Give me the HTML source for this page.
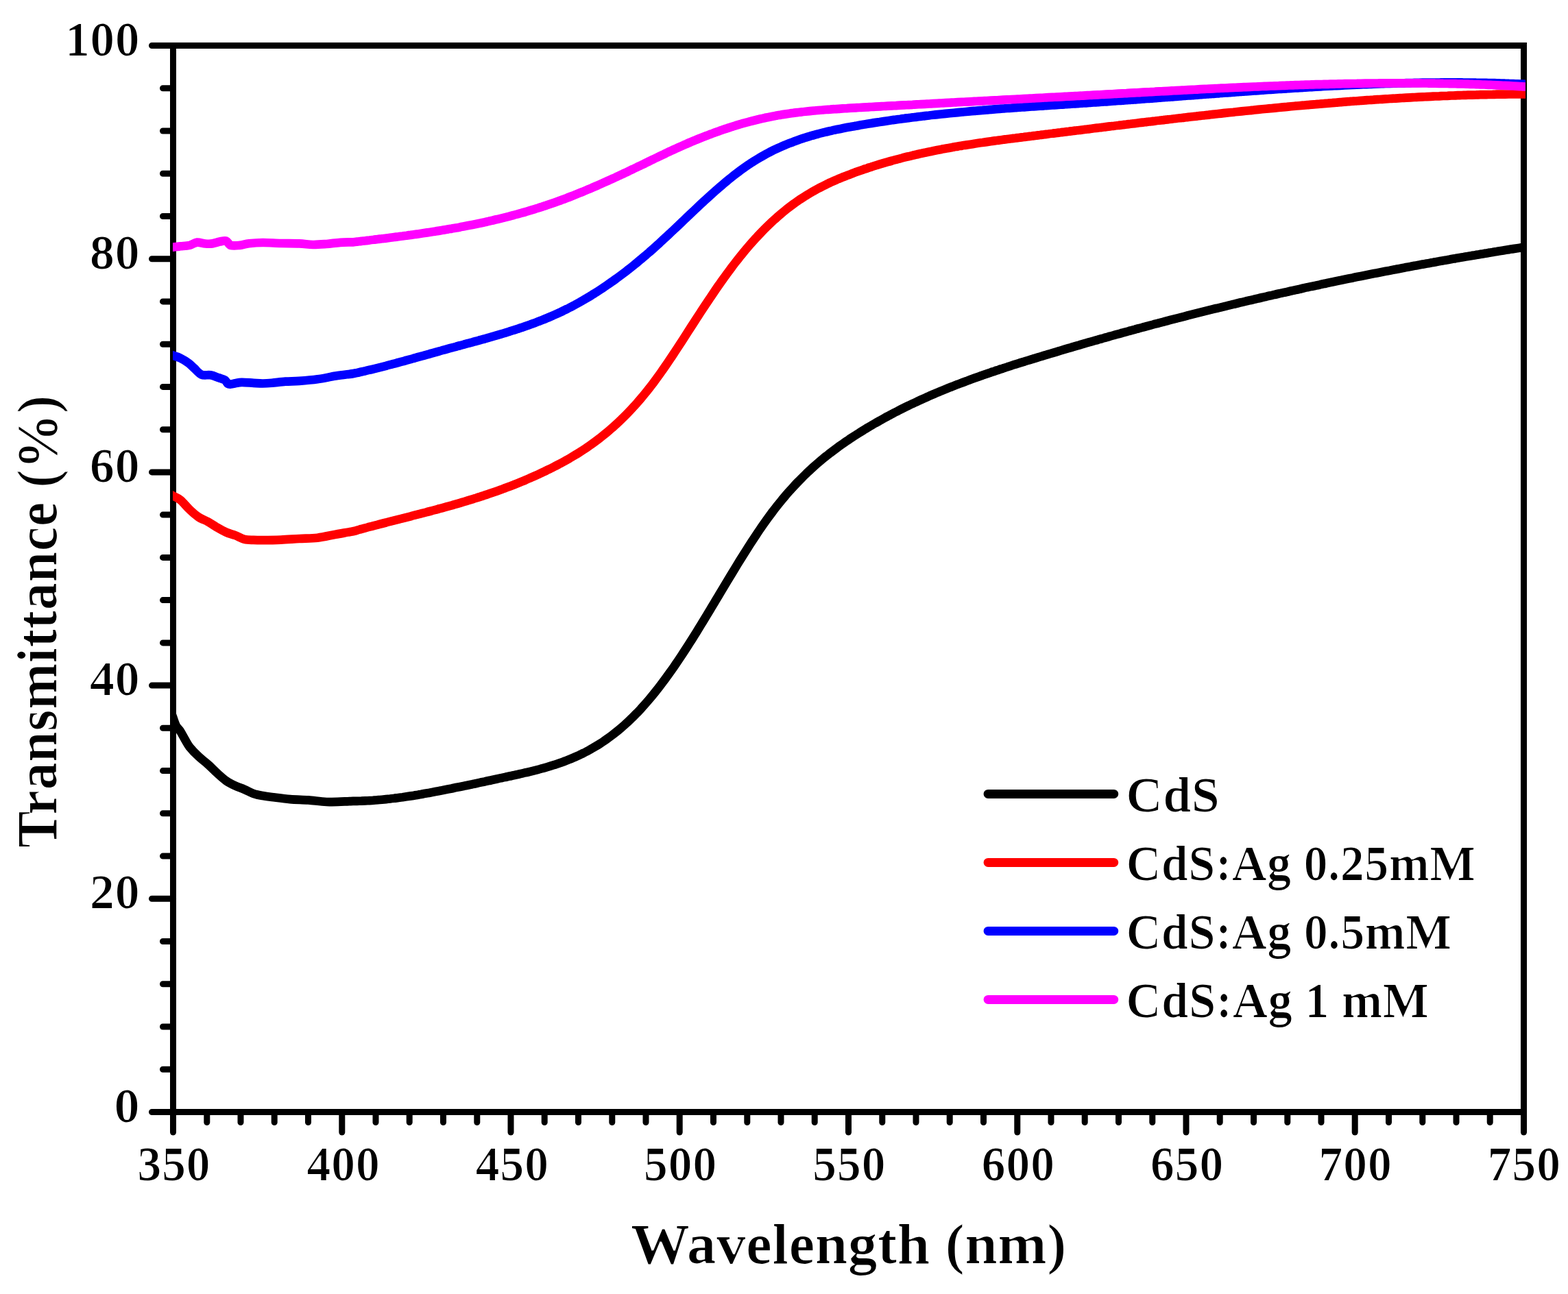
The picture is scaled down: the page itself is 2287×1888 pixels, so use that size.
<!DOCTYPE html>
<html><head><meta charset="utf-8"><title>Transmittance vs Wavelength</title>
<style>
html,body{margin:0;padding:0;background:#fff;overflow:hidden;}
svg{display:block;}
text{font-family:'Liberation Serif',serif;font-weight:bold;}
</style></head><body>
<svg width="2287" height="1888" viewBox="0 0 2287 1888">
<rect width="100%" height="100%" fill="#fff"/>
<g stroke="#000" stroke-width="9" fill="none" stroke-linecap="round">
<line x1="221.5" y1="1622.5" x2="252.5" y2="1622.5"/>
<line x1="237.5" y1="1560.3" x2="252.5" y2="1560.3"/>
<line x1="237.5" y1="1498.0" x2="252.5" y2="1498.0"/>
<line x1="237.5" y1="1435.8" x2="252.5" y2="1435.8"/>
<line x1="237.5" y1="1373.5" x2="252.5" y2="1373.5"/>
<line x1="221.5" y1="1311.3" x2="252.5" y2="1311.3"/>
<line x1="237.5" y1="1249.1" x2="252.5" y2="1249.1"/>
<line x1="237.5" y1="1186.8" x2="252.5" y2="1186.8"/>
<line x1="237.5" y1="1124.6" x2="252.5" y2="1124.6"/>
<line x1="237.5" y1="1062.3" x2="252.5" y2="1062.3"/>
<line x1="221.5" y1="1000.1" x2="252.5" y2="1000.1"/>
<line x1="237.5" y1="937.9" x2="252.5" y2="937.9"/>
<line x1="237.5" y1="875.6" x2="252.5" y2="875.6"/>
<line x1="237.5" y1="813.4" x2="252.5" y2="813.4"/>
<line x1="237.5" y1="751.1" x2="252.5" y2="751.1"/>
<line x1="221.5" y1="688.9" x2="252.5" y2="688.9"/>
<line x1="237.5" y1="626.7" x2="252.5" y2="626.7"/>
<line x1="237.5" y1="564.4" x2="252.5" y2="564.4"/>
<line x1="237.5" y1="502.2" x2="252.5" y2="502.2"/>
<line x1="237.5" y1="439.9" x2="252.5" y2="439.9"/>
<line x1="221.5" y1="377.7" x2="252.5" y2="377.7"/>
<line x1="237.5" y1="315.5" x2="252.5" y2="315.5"/>
<line x1="237.5" y1="253.2" x2="252.5" y2="253.2"/>
<line x1="237.5" y1="191.0" x2="252.5" y2="191.0"/>
<line x1="237.5" y1="128.7" x2="252.5" y2="128.7"/>
<line x1="221.5" y1="66.5" x2="252.5" y2="66.5"/>
<line x1="252.5" y1="1622.5" x2="252.5" y2="1652.0"/>
<line x1="301.8" y1="1622.5" x2="301.8" y2="1637.5"/>
<line x1="351.0" y1="1622.5" x2="351.0" y2="1637.5"/>
<line x1="400.2" y1="1622.5" x2="400.2" y2="1637.5"/>
<line x1="449.5" y1="1622.5" x2="449.5" y2="1637.5"/>
<line x1="498.8" y1="1622.5" x2="498.8" y2="1652.0"/>
<line x1="548.0" y1="1622.5" x2="548.0" y2="1637.5"/>
<line x1="597.2" y1="1622.5" x2="597.2" y2="1637.5"/>
<line x1="646.5" y1="1622.5" x2="646.5" y2="1637.5"/>
<line x1="695.8" y1="1622.5" x2="695.8" y2="1637.5"/>
<line x1="745.0" y1="1622.5" x2="745.0" y2="1652.0"/>
<line x1="794.2" y1="1622.5" x2="794.2" y2="1637.5"/>
<line x1="843.5" y1="1622.5" x2="843.5" y2="1637.5"/>
<line x1="892.8" y1="1622.5" x2="892.8" y2="1637.5"/>
<line x1="942.0" y1="1622.5" x2="942.0" y2="1637.5"/>
<line x1="991.2" y1="1622.5" x2="991.2" y2="1652.0"/>
<line x1="1040.5" y1="1622.5" x2="1040.5" y2="1637.5"/>
<line x1="1089.8" y1="1622.5" x2="1089.8" y2="1637.5"/>
<line x1="1139.0" y1="1622.5" x2="1139.0" y2="1637.5"/>
<line x1="1188.2" y1="1622.5" x2="1188.2" y2="1637.5"/>
<line x1="1237.5" y1="1622.5" x2="1237.5" y2="1652.0"/>
<line x1="1286.8" y1="1622.5" x2="1286.8" y2="1637.5"/>
<line x1="1336.0" y1="1622.5" x2="1336.0" y2="1637.5"/>
<line x1="1385.2" y1="1622.5" x2="1385.2" y2="1637.5"/>
<line x1="1434.5" y1="1622.5" x2="1434.5" y2="1637.5"/>
<line x1="1483.8" y1="1622.5" x2="1483.8" y2="1652.0"/>
<line x1="1533.0" y1="1622.5" x2="1533.0" y2="1637.5"/>
<line x1="1582.2" y1="1622.5" x2="1582.2" y2="1637.5"/>
<line x1="1631.5" y1="1622.5" x2="1631.5" y2="1637.5"/>
<line x1="1680.8" y1="1622.5" x2="1680.8" y2="1637.5"/>
<line x1="1730.0" y1="1622.5" x2="1730.0" y2="1652.0"/>
<line x1="1779.2" y1="1622.5" x2="1779.2" y2="1637.5"/>
<line x1="1828.5" y1="1622.5" x2="1828.5" y2="1637.5"/>
<line x1="1877.8" y1="1622.5" x2="1877.8" y2="1637.5"/>
<line x1="1927.0" y1="1622.5" x2="1927.0" y2="1637.5"/>
<line x1="1976.2" y1="1622.5" x2="1976.2" y2="1652.0"/>
<line x1="2025.5" y1="1622.5" x2="2025.5" y2="1637.5"/>
<line x1="2074.8" y1="1622.5" x2="2074.8" y2="1637.5"/>
<line x1="2124.0" y1="1622.5" x2="2124.0" y2="1637.5"/>
<line x1="2173.2" y1="1622.5" x2="2173.2" y2="1637.5"/>
<line x1="2222.5" y1="1622.5" x2="2222.5" y2="1652.0"/>
</g>
<rect x="252.5" y="66.5" width="1970.0" height="1556.0" fill="none" stroke="#000" stroke-width="9"/>
<defs><clipPath id="pc"><rect x="252" y="0" width="1973" height="1888"/></clipPath></defs>
<g clip-path="url(#pc)">
<path d="M248.0,1035.3 C248.7,1037.1 250.6,1042.1 252.0,1046.0 C253.4,1049.9 254.8,1055.0 256.7,1058.6 C258.6,1062.1 261.1,1063.8 263.3,1067.3 C265.5,1070.8 267.8,1075.5 270.0,1079.3 C272.2,1083.1 273.3,1085.8 276.6,1089.9 C279.9,1094.0 285.4,1099.7 289.9,1103.9 C294.3,1108.1 298.9,1111.2 303.3,1115.2 C307.8,1119.2 312.2,1123.9 316.6,1127.9 C321.0,1131.9 325.5,1136.1 329.9,1139.2 C334.3,1142.3 338.8,1144.4 343.2,1146.5 C347.6,1148.6 352.1,1149.9 356.5,1151.8 C360.9,1153.7 365.4,1156.5 369.8,1158.0 C374.2,1159.5 378.7,1160.3 383.1,1161.1 C387.6,1161.9 389.8,1162.2 396.5,1163.0 C403.2,1163.8 414.2,1165.4 423.1,1166.1 C432.0,1166.8 440.8,1166.8 449.7,1167.4 C458.6,1168.1 467.4,1169.7 476.3,1170.0 C485.2,1170.3 496.4,1169.6 502.9,1169.4 C509.3,1169.2 512.0,1169.0 515.0,1168.9 C518.0,1168.8 519.0,1168.9 521.0,1168.8 C523.0,1168.8 525.0,1168.7 527.0,1168.7 C529.0,1168.6 531.0,1168.5 533.0,1168.4 C535.0,1168.3 537.0,1168.2 539.0,1168.1 C541.0,1168.0 543.0,1167.9 545.0,1167.7 C547.0,1167.6 549.0,1167.4 551.0,1167.2 C553.0,1167.1 555.0,1166.9 557.0,1166.7 C559.0,1166.5 561.0,1166.3 563.0,1166.1 C565.0,1165.9 567.0,1165.7 569.0,1165.5 C571.0,1165.2 573.0,1165.0 575.0,1164.8 C577.0,1164.5 579.0,1164.3 581.0,1164.0 C583.0,1163.7 585.0,1163.4 587.0,1163.2 C589.0,1162.9 591.0,1162.6 593.0,1162.3 C595.0,1162.0 597.0,1161.7 599.0,1161.4 C601.0,1161.1 603.0,1160.8 605.0,1160.4 C607.0,1160.1 609.0,1159.8 611.0,1159.4 C613.0,1159.1 615.0,1158.7 617.0,1158.4 C619.0,1158.0 621.0,1157.7 623.0,1157.3 C625.0,1157.0 627.0,1156.6 629.0,1156.2 C631.0,1155.9 633.0,1155.5 635.0,1155.1 C637.0,1154.7 639.0,1154.3 641.0,1153.9 C643.0,1153.6 645.0,1153.2 647.0,1152.8 C649.0,1152.4 651.0,1152.0 653.0,1151.6 C655.0,1151.2 657.0,1150.8 659.0,1150.4 C661.0,1150.0 663.0,1149.5 665.0,1149.1 C667.0,1148.7 669.0,1148.3 671.0,1147.9 C673.0,1147.5 675.0,1147.1 677.0,1146.7 C679.0,1146.2 681.0,1145.8 683.0,1145.4 C685.0,1145.0 687.0,1144.6 689.0,1144.2 C691.0,1143.7 693.0,1143.3 695.0,1142.9 C697.0,1142.5 699.0,1142.1 701.0,1141.6 C703.0,1141.2 705.0,1140.8 707.0,1140.4 C709.0,1139.9 711.0,1139.5 713.0,1139.1 C715.0,1138.7 717.0,1138.2 719.0,1137.8 C721.0,1137.4 723.0,1137.0 725.0,1136.5 C727.0,1136.1 729.0,1135.7 731.0,1135.2 C733.0,1134.8 735.0,1134.4 737.0,1133.9 C739.0,1133.5 741.0,1133.0 743.0,1132.6 C745.0,1132.2 747.0,1131.7 749.0,1131.3 C751.0,1130.8 753.0,1130.4 755.0,1130.0 C757.0,1129.5 759.0,1129.1 761.0,1128.6 C763.0,1128.1 765.0,1127.7 767.0,1127.2 C769.0,1126.8 771.0,1126.3 773.0,1125.8 C775.0,1125.3 777.0,1124.8 779.0,1124.3 C781.0,1123.8 783.0,1123.3 785.0,1122.8 C787.0,1122.3 789.0,1121.7 791.0,1121.2 C793.0,1120.6 795.0,1120.1 797.0,1119.5 C799.0,1118.9 801.0,1118.3 803.0,1117.7 C805.0,1117.1 807.0,1116.5 809.0,1115.8 C811.0,1115.2 813.0,1114.5 815.0,1113.8 C817.0,1113.1 819.0,1112.4 821.0,1111.7 C823.0,1110.9 825.0,1110.2 827.0,1109.4 C829.0,1108.6 831.0,1107.8 833.0,1107.0 C835.0,1106.2 837.0,1105.3 839.0,1104.4 C841.0,1103.5 843.0,1102.6 845.0,1101.7 C847.0,1100.7 849.0,1099.8 851.0,1098.8 C853.0,1097.8 855.0,1096.7 857.0,1095.7 C859.0,1094.6 861.0,1093.5 863.0,1092.3 C865.0,1091.2 867.0,1090.0 869.0,1088.8 C871.0,1087.6 873.0,1086.4 875.0,1085.1 C877.0,1083.8 879.0,1082.5 881.0,1081.1 C883.0,1079.8 885.0,1078.4 887.0,1076.9 C889.0,1075.5 891.0,1074.0 893.0,1072.5 C895.0,1071.0 897.0,1069.4 899.0,1067.8 C901.0,1066.2 903.0,1064.5 905.0,1062.8 C907.0,1061.1 909.0,1059.4 911.0,1057.6 C913.0,1055.8 915.0,1054.0 917.0,1052.1 C919.0,1050.2 921.0,1048.3 923.0,1046.3 C925.0,1044.4 927.0,1042.3 929.0,1040.3 C931.0,1038.2 933.0,1036.1 935.0,1033.9 C937.0,1031.7 939.0,1029.5 941.0,1027.2 C943.0,1025.0 945.0,1022.7 947.0,1020.3 C949.0,1017.9 951.0,1015.5 953.0,1013.0 C955.0,1010.6 957.0,1008.0 959.0,1005.5 C961.0,1002.9 963.0,1000.3 965.0,997.7 C967.0,995.0 969.0,992.3 971.0,989.6 C973.0,986.9 975.0,984.1 977.0,981.3 C979.0,978.5 981.0,975.6 983.0,972.8 C985.0,969.9 987.0,966.9 989.0,964.0 C991.0,961.0 993.0,958.0 995.0,955.0 C997.0,952.0 999.0,948.9 1001.0,945.8 C1003.0,942.7 1005.0,939.6 1007.0,936.4 C1009.0,933.3 1011.0,930.1 1013.0,926.9 C1015.0,923.7 1017.0,920.4 1019.0,917.2 C1021.0,913.9 1023.0,910.7 1025.0,907.4 C1027.0,904.1 1029.0,900.8 1031.0,897.5 C1033.0,894.2 1035.0,890.9 1037.0,887.5 C1039.0,884.2 1041.0,880.9 1043.0,877.5 C1045.0,874.2 1047.0,870.9 1049.0,867.5 C1051.0,864.2 1053.0,860.8 1055.0,857.5 C1057.0,854.2 1059.0,850.8 1061.0,847.5 C1063.0,844.2 1065.0,840.9 1067.0,837.6 C1069.0,834.3 1071.0,831.0 1073.0,827.7 C1075.0,824.4 1077.0,821.2 1079.0,817.9 C1081.0,814.7 1083.0,811.5 1085.0,808.3 C1087.0,805.1 1089.0,802.0 1091.0,798.8 C1093.0,795.7 1095.0,792.6 1097.0,789.5 C1099.0,786.4 1101.0,783.4 1103.0,780.4 C1105.0,777.4 1107.0,774.4 1109.0,771.5 C1111.0,768.6 1113.0,765.7 1115.0,762.9 C1117.0,760.0 1119.0,757.2 1121.0,754.5 C1123.0,751.7 1125.0,749.1 1127.0,746.4 C1129.0,743.8 1131.0,741.2 1133.0,738.6 C1135.0,736.1 1137.0,733.6 1139.0,731.2 C1141.0,728.7 1143.0,726.3 1145.0,724.0 C1147.0,721.6 1149.0,719.3 1151.0,717.1 C1153.0,714.8 1155.0,712.6 1157.0,710.4 C1159.0,708.2 1161.0,706.1 1163.0,704.0 C1165.0,701.9 1167.0,699.9 1169.0,697.9 C1171.0,695.9 1173.0,693.9 1175.0,692.0 C1177.0,690.0 1179.0,688.1 1181.0,686.3 C1183.0,684.4 1185.0,682.6 1187.0,680.8 C1189.0,679.0 1191.0,677.2 1193.0,675.5 C1195.0,673.8 1197.0,672.1 1199.0,670.4 C1201.0,668.8 1203.0,667.1 1205.0,665.5 C1207.0,663.9 1209.0,662.4 1211.0,660.8 C1213.0,659.3 1215.0,657.8 1217.0,656.3 C1219.0,654.8 1221.0,653.3 1223.0,651.8 C1225.0,650.4 1227.0,649.0 1229.0,647.6 C1231.0,646.2 1233.0,644.8 1235.0,643.4 C1237.0,642.1 1239.0,640.7 1241.0,639.4 C1243.0,638.1 1245.0,636.8 1247.0,635.5 C1249.0,634.2 1251.0,633.0 1253.0,631.7 C1255.0,630.4 1257.0,629.2 1259.0,628.0 C1261.0,626.8 1263.0,625.5 1265.0,624.3 C1267.0,623.1 1269.0,621.9 1271.0,620.8 C1273.0,619.6 1275.0,618.4 1277.0,617.3 C1279.0,616.1 1281.0,615.0 1283.0,613.9 C1285.0,612.7 1287.0,611.6 1289.0,610.5 C1291.0,609.4 1293.0,608.3 1295.0,607.3 C1297.0,606.2 1299.0,605.1 1301.0,604.0 C1303.0,603.0 1305.0,601.9 1307.0,600.9 C1309.0,599.9 1311.0,598.8 1313.0,597.8 C1315.0,596.8 1317.0,595.8 1319.0,594.8 C1321.0,593.8 1323.0,592.8 1325.0,591.9 C1327.0,590.9 1329.0,589.9 1331.0,589.0 C1333.0,588.0 1335.0,587.1 1337.0,586.2 C1339.0,585.2 1341.0,584.3 1343.0,583.4 C1345.0,582.5 1347.0,581.6 1349.0,580.7 C1351.0,579.8 1353.0,578.9 1355.0,578.0 C1357.0,577.1 1359.0,576.3 1361.0,575.4 C1363.0,574.5 1365.0,573.7 1367.0,572.8 C1369.0,572.0 1371.0,571.2 1373.0,570.3 C1375.0,569.5 1377.0,568.7 1379.0,567.9 C1381.0,567.1 1383.0,566.2 1385.0,565.4 C1387.0,564.6 1389.0,563.9 1391.0,563.1 C1393.0,562.3 1395.0,561.5 1397.0,560.7 C1399.0,560.0 1401.0,559.2 1403.0,558.5 C1405.0,557.7 1407.0,556.9 1409.0,556.2 C1411.0,555.5 1413.0,554.7 1415.0,554.0 C1417.0,553.3 1419.0,552.5 1421.0,551.8 C1423.0,551.1 1425.0,550.4 1427.0,549.7 C1429.0,549.0 1431.0,548.2 1433.0,547.6 C1435.0,546.9 1437.0,546.2 1439.0,545.5 C1441.0,544.8 1443.0,544.1 1445.0,543.4 C1447.0,542.7 1449.0,542.1 1451.0,541.4 C1453.0,540.7 1455.0,540.1 1457.0,539.4 C1459.0,538.7 1461.0,538.1 1463.0,537.4 C1465.0,536.8 1467.0,536.1 1469.0,535.5 C1471.0,534.8 1473.0,534.2 1475.0,533.5 C1477.0,532.9 1479.0,532.3 1481.0,531.6 C1483.0,531.0 1485.0,530.4 1487.0,529.7 C1489.0,529.1 1491.0,528.5 1493.0,527.9 C1495.0,527.2 1497.0,526.6 1499.0,526.0 C1501.0,525.4 1503.0,524.8 1505.0,524.2 C1507.0,523.5 1509.0,522.9 1511.0,522.3 C1513.0,521.7 1515.0,521.1 1517.0,520.5 C1519.0,519.9 1521.0,519.3 1523.0,518.7 C1525.0,518.1 1527.0,517.5 1529.0,516.9 C1531.0,516.3 1533.0,515.7 1535.0,515.1 C1537.0,514.5 1539.0,513.9 1541.0,513.3 C1543.0,512.7 1545.0,512.1 1547.0,511.5 C1549.0,510.9 1551.0,510.3 1553.0,509.7 C1555.0,509.1 1557.0,508.5 1559.0,507.9 C1561.0,507.3 1563.0,506.8 1565.0,506.2 C1567.0,505.6 1569.0,505.0 1571.0,504.4 C1573.0,503.8 1575.0,503.3 1577.0,502.7 C1579.0,502.1 1581.0,501.5 1583.0,500.9 C1585.0,500.4 1587.0,499.8 1589.0,499.2 C1591.0,498.6 1593.0,498.1 1595.0,497.5 C1597.0,496.9 1599.0,496.4 1601.0,495.8 C1603.0,495.2 1605.0,494.7 1607.0,494.1 C1609.0,493.5 1611.0,493.0 1613.0,492.4 C1615.0,491.8 1617.0,491.3 1619.0,490.7 C1621.0,490.2 1623.0,489.6 1625.0,489.0 C1627.0,488.5 1629.0,487.9 1631.0,487.4 C1633.0,486.8 1635.0,486.3 1637.0,485.7 C1639.0,485.2 1641.0,484.6 1643.0,484.1 C1645.0,483.5 1647.0,483.0 1649.0,482.4 C1651.0,481.9 1653.0,481.3 1655.0,480.8 C1657.0,480.2 1659.0,479.7 1661.0,479.1 C1663.0,478.6 1665.0,478.1 1667.0,477.5 C1669.0,477.0 1671.0,476.5 1673.0,475.9 C1675.0,475.4 1677.0,474.8 1679.0,474.3 C1681.0,473.8 1683.0,473.2 1685.0,472.7 C1687.0,472.2 1689.0,471.7 1691.0,471.1 C1693.0,470.6 1695.0,470.1 1697.0,469.6 C1699.0,469.0 1701.0,468.5 1703.0,468.0 C1705.0,467.5 1707.0,466.9 1709.0,466.4 C1711.0,465.9 1713.0,465.4 1715.0,464.9 C1717.0,464.3 1719.0,463.8 1721.0,463.3 C1723.0,462.8 1725.0,462.3 1727.0,461.8 C1729.0,461.3 1731.0,460.8 1733.0,460.2 C1735.0,459.7 1737.0,459.2 1739.0,458.7 C1741.0,458.2 1743.0,457.7 1745.0,457.2 C1747.0,456.7 1749.0,456.2 1751.0,455.7 C1753.0,455.2 1755.0,454.7 1757.0,454.2 C1759.0,453.7 1761.0,453.2 1763.0,452.7 C1765.0,452.2 1767.0,451.7 1769.0,451.2 C1771.0,450.7 1773.0,450.2 1775.0,449.8 C1777.0,449.3 1779.0,448.8 1781.0,448.3 C1783.0,447.8 1785.0,447.3 1787.0,446.8 C1789.0,446.3 1791.0,445.9 1793.0,445.4 C1795.0,444.9 1797.0,444.4 1799.0,443.9 C1801.0,443.4 1803.0,443.0 1805.0,442.5 C1807.0,442.0 1809.0,441.5 1811.0,441.1 C1813.0,440.6 1815.0,440.1 1817.0,439.6 C1819.0,439.2 1821.0,438.7 1823.0,438.2 C1825.0,437.8 1827.0,437.3 1829.0,436.8 C1831.0,436.4 1833.0,435.9 1835.0,435.4 C1837.0,435.0 1839.0,434.5 1841.0,434.0 C1843.0,433.6 1845.0,433.1 1847.0,432.7 C1849.0,432.2 1851.0,431.7 1853.0,431.3 C1855.0,430.8 1857.0,430.4 1859.0,429.9 C1861.0,429.5 1863.0,429.0 1865.0,428.5 C1867.0,428.1 1869.0,427.6 1871.0,427.2 C1873.0,426.7 1875.0,426.3 1877.0,425.9 C1879.0,425.4 1881.0,425.0 1883.0,424.5 C1885.0,424.1 1887.0,423.6 1889.0,423.2 C1891.0,422.7 1893.0,422.3 1895.0,421.9 C1897.0,421.4 1899.0,421.0 1901.0,420.5 C1903.0,420.1 1905.0,419.7 1907.0,419.2 C1909.0,418.8 1911.0,418.4 1913.0,417.9 C1915.0,417.5 1917.0,417.1 1919.0,416.7 C1921.0,416.2 1923.0,415.8 1925.0,415.4 C1927.0,414.9 1929.0,414.5 1931.0,414.1 C1933.0,413.7 1935.0,413.2 1937.0,412.8 C1939.0,412.4 1941.0,412.0 1943.0,411.6 C1945.0,411.1 1947.0,410.7 1949.0,410.3 C1951.0,409.9 1953.0,409.5 1955.0,409.1 C1957.0,408.6 1959.0,408.2 1961.0,407.8 C1963.0,407.4 1965.0,407.0 1967.0,406.6 C1969.0,406.2 1971.0,405.8 1973.0,405.4 C1975.0,404.9 1977.0,404.5 1979.0,404.1 C1981.0,403.7 1983.0,403.3 1985.0,402.9 C1987.0,402.5 1989.0,402.1 1991.0,401.7 C1993.0,401.3 1995.0,400.9 1997.0,400.5 C1999.0,400.1 2001.0,399.7 2003.0,399.3 C2005.0,398.9 2007.0,398.6 2009.0,398.2 C2011.0,397.8 2013.0,397.4 2015.0,397.0 C2017.0,396.6 2019.0,396.2 2021.0,395.8 C2023.0,395.4 2025.0,395.0 2027.0,394.7 C2029.0,394.3 2031.0,393.9 2033.0,393.5 C2035.0,393.1 2037.0,392.7 2039.0,392.4 C2041.0,392.0 2043.0,391.6 2045.0,391.2 C2047.0,390.8 2049.0,390.5 2051.0,390.1 C2053.0,389.7 2055.0,389.3 2057.0,389.0 C2059.0,388.6 2061.0,388.2 2063.0,387.8 C2065.0,387.5 2067.0,387.1 2069.0,386.7 C2071.0,386.4 2073.0,386.0 2075.0,385.6 C2077.0,385.3 2079.0,384.9 2081.0,384.5 C2083.0,384.2 2085.0,383.8 2087.0,383.4 C2089.0,383.1 2091.0,382.7 2093.0,382.4 C2095.0,382.0 2097.0,381.6 2099.0,381.3 C2101.0,380.9 2103.0,380.6 2105.0,380.2 C2107.0,379.9 2109.0,379.5 2111.0,379.2 C2113.0,378.8 2115.0,378.5 2117.0,378.1 C2119.0,377.8 2121.0,377.4 2123.0,377.1 C2125.0,376.7 2127.0,376.4 2129.0,376.0 C2131.0,375.7 2133.0,375.3 2135.0,375.0 C2137.0,374.6 2139.0,374.3 2141.0,374.0 C2143.0,373.6 2145.0,373.3 2147.0,372.9 C2149.0,372.6 2151.0,372.3 2153.0,371.9 C2155.0,371.6 2157.0,371.3 2159.0,370.9 C2161.0,370.6 2163.0,370.3 2165.0,369.9 C2167.0,369.6 2169.0,369.3 2171.0,368.9 C2173.0,368.6 2175.0,368.3 2177.0,368.0 C2179.0,367.6 2181.0,367.3 2183.0,367.0 C2185.0,366.6 2187.0,366.3 2189.0,366.0 C2191.0,365.7 2193.0,365.4 2195.0,365.0 C2197.0,364.7 2199.0,364.4 2201.0,364.1 C2203.0,363.8 2205.0,363.4 2207.0,363.1 C2209.0,362.8 2211.0,362.5 2213.0,362.2 C2215.0,361.9 2217.0,361.6 2219.0,361.2 C2221.0,360.9 2223.3,360.6 2225.0,360.3 C2226.7,360.1 2228.3,359.8 2229.0,359.7" fill="none" stroke="#000" stroke-width="12.7" stroke-linejoin="round"/>
<path d="M248.0,721.1 C248.7,721.4 249.4,721.9 252.0,723.3 C254.6,724.7 259.2,726.2 263.3,729.6 C267.4,733.0 272.2,739.3 276.6,743.5 C281.0,747.7 285.4,751.6 289.9,754.6 C294.3,757.6 298.9,758.7 303.3,761.2 C307.8,763.7 312.2,766.9 316.6,769.5 C321.0,772.1 325.5,774.6 329.9,776.6 C334.3,778.6 338.8,779.5 343.2,781.2 C347.6,782.9 352.1,785.7 356.5,786.8 C360.9,787.9 365.4,787.7 369.8,787.9 C374.2,788.1 376.4,788.1 383.1,788.1 C389.8,788.1 400.9,788.0 409.8,787.6 C418.7,787.2 427.5,786.5 436.4,786.0 C445.3,785.5 454.1,785.8 463.0,784.7 C471.9,783.7 480.9,781.3 489.6,779.7 C498.3,778.1 509.8,776.3 515.0,775.2 C520.2,774.2 519.0,774.1 521.0,773.6 C523.0,773.0 525.0,772.5 527.0,771.9 C529.0,771.4 531.0,770.8 533.0,770.3 C535.0,769.8 537.0,769.2 539.0,768.7 C541.0,768.2 543.0,767.7 545.0,767.1 C547.0,766.6 549.0,766.1 551.0,765.6 C553.0,765.0 555.0,764.5 557.0,764.0 C559.0,763.5 561.0,763.0 563.0,762.5 C565.0,761.9 567.0,761.4 569.0,760.9 C571.0,760.4 573.0,759.9 575.0,759.4 C577.0,758.9 579.0,758.4 581.0,757.9 C583.0,757.3 585.0,756.8 587.0,756.3 C589.0,755.8 591.0,755.3 593.0,754.8 C595.0,754.3 597.0,753.8 599.0,753.3 C601.0,752.7 603.0,752.2 605.0,751.7 C607.0,751.2 609.0,750.7 611.0,750.2 C613.0,749.7 615.0,749.1 617.0,748.6 C619.0,748.1 621.0,747.6 623.0,747.0 C625.0,746.5 627.0,746.0 629.0,745.5 C631.0,744.9 633.0,744.4 635.0,743.9 C637.0,743.3 639.0,742.8 641.0,742.2 C643.0,741.7 645.0,741.2 647.0,740.6 C649.0,740.1 651.0,739.5 653.0,738.9 C655.0,738.4 657.0,737.8 659.0,737.3 C661.0,736.7 663.0,736.1 665.0,735.5 C667.0,735.0 669.0,734.4 671.0,733.8 C673.0,733.2 675.0,732.6 677.0,732.0 C679.0,731.4 681.0,730.8 683.0,730.2 C685.0,729.6 687.0,729.0 689.0,728.4 C691.0,727.7 693.0,727.1 695.0,726.5 C697.0,725.8 699.0,725.2 701.0,724.6 C703.0,723.9 705.0,723.3 707.0,722.6 C709.0,721.9 711.0,721.3 713.0,720.6 C715.0,719.9 717.0,719.2 719.0,718.5 C721.0,717.8 723.0,717.1 725.0,716.4 C727.0,715.7 729.0,715.0 731.0,714.3 C733.0,713.5 735.0,712.8 737.0,712.0 C739.0,711.3 741.0,710.5 743.0,709.8 C745.0,709.0 747.0,708.2 749.0,707.5 C751.0,706.7 753.0,705.9 755.0,705.1 C757.0,704.3 759.0,703.4 761.0,702.6 C763.0,701.8 765.0,701.0 767.0,700.1 C769.0,699.3 771.0,698.4 773.0,697.5 C775.0,696.7 777.0,695.8 779.0,694.9 C781.0,694.0 783.0,693.1 785.0,692.2 C787.0,691.2 789.0,690.3 791.0,689.4 C793.0,688.4 795.0,687.5 797.0,686.5 C799.0,685.5 801.0,684.6 803.0,683.6 C805.0,682.6 807.0,681.6 809.0,680.5 C811.0,679.5 813.0,678.5 815.0,677.4 C817.0,676.4 819.0,675.3 821.0,674.2 C823.0,673.1 825.0,672.0 827.0,670.9 C829.0,669.7 831.0,668.6 833.0,667.4 C835.0,666.2 837.0,665.0 839.0,663.8 C841.0,662.6 843.0,661.4 845.0,660.1 C847.0,658.8 849.0,657.5 851.0,656.2 C853.0,654.9 855.0,653.6 857.0,652.2 C859.0,650.8 861.0,649.4 863.0,648.0 C865.0,646.6 867.0,645.1 869.0,643.6 C871.0,642.1 873.0,640.6 875.0,639.1 C877.0,637.5 879.0,635.9 881.0,634.3 C883.0,632.7 885.0,631.0 887.0,629.3 C889.0,627.6 891.0,625.9 893.0,624.2 C895.0,622.4 897.0,620.6 899.0,618.8 C901.0,616.9 903.0,615.0 905.0,613.1 C907.0,611.2 909.0,609.3 911.0,607.3 C913.0,605.3 915.0,603.2 917.0,601.1 C919.0,599.0 921.0,596.9 923.0,594.7 C925.0,592.6 927.0,590.4 929.0,588.1 C931.0,585.8 933.0,583.5 935.0,581.1 C937.0,578.8 939.0,576.4 941.0,573.9 C943.0,571.5 945.0,569.0 947.0,566.4 C949.0,563.8 951.0,561.2 953.0,558.6 C955.0,555.9 957.0,553.2 959.0,550.4 C961.0,547.7 963.0,544.9 965.0,542.0 C967.0,539.2 969.0,536.3 971.0,533.4 C973.0,530.5 975.0,527.5 977.0,524.5 C979.0,521.6 981.0,518.6 983.0,515.5 C985.0,512.5 987.0,509.5 989.0,506.4 C991.0,503.3 993.0,500.2 995.0,497.2 C997.0,494.1 999.0,491.0 1001.0,487.9 C1003.0,484.8 1005.0,481.6 1007.0,478.5 C1009.0,475.4 1011.0,472.3 1013.0,469.2 C1015.0,466.1 1017.0,463.0 1019.0,460.0 C1021.0,456.9 1023.0,453.8 1025.0,450.8 C1027.0,447.8 1029.0,444.7 1031.0,441.7 C1033.0,438.7 1035.0,435.7 1037.0,432.8 C1039.0,429.8 1041.0,426.9 1043.0,423.9 C1045.0,421.0 1047.0,418.1 1049.0,415.3 C1051.0,412.4 1053.0,409.6 1055.0,406.8 C1057.0,404.0 1059.0,401.2 1061.0,398.5 C1063.0,395.8 1065.0,393.1 1067.0,390.4 C1069.0,387.7 1071.0,385.1 1073.0,382.5 C1075.0,380.0 1077.0,377.4 1079.0,374.9 C1081.0,372.4 1083.0,370.0 1085.0,367.5 C1087.0,365.1 1089.0,362.7 1091.0,360.4 C1093.0,358.1 1095.0,355.8 1097.0,353.5 C1099.0,351.3 1101.0,349.0 1103.0,346.9 C1105.0,344.7 1107.0,342.6 1109.0,340.5 C1111.0,338.4 1113.0,336.3 1115.0,334.3 C1117.0,332.3 1119.0,330.3 1121.0,328.4 C1123.0,326.5 1125.0,324.6 1127.0,322.7 C1129.0,320.9 1131.0,319.0 1133.0,317.3 C1135.0,315.5 1137.0,313.8 1139.0,312.1 C1141.0,310.4 1143.0,308.7 1145.0,307.1 C1147.0,305.5 1149.0,303.9 1151.0,302.4 C1153.0,300.9 1155.0,299.4 1157.0,297.9 C1159.0,296.4 1161.0,295.0 1163.0,293.6 C1165.0,292.3 1167.0,290.9 1169.0,289.6 C1171.0,288.3 1173.0,287.0 1175.0,285.7 C1177.0,284.5 1179.0,283.3 1181.0,282.1 C1183.0,280.9 1185.0,279.7 1187.0,278.6 C1189.0,277.5 1191.0,276.4 1193.0,275.3 C1195.0,274.2 1197.0,273.2 1199.0,272.2 C1201.0,271.1 1203.0,270.2 1205.0,269.2 C1207.0,268.2 1209.0,267.3 1211.0,266.3 C1213.0,265.4 1215.0,264.5 1217.0,263.6 C1219.0,262.7 1221.0,261.9 1223.0,261.0 C1225.0,260.2 1227.0,259.4 1229.0,258.5 C1231.0,257.7 1233.0,256.9 1235.0,256.2 C1237.0,255.4 1239.0,254.6 1241.0,253.9 C1243.0,253.1 1245.0,252.4 1247.0,251.6 C1249.0,250.9 1251.0,250.2 1253.0,249.5 C1255.0,248.8 1257.0,248.1 1259.0,247.4 C1261.0,246.7 1263.0,246.1 1265.0,245.4 C1267.0,244.7 1269.0,244.1 1271.0,243.4 C1273.0,242.8 1275.0,242.2 1277.0,241.5 C1279.0,240.9 1281.0,240.3 1283.0,239.7 C1285.0,239.1 1287.0,238.5 1289.0,237.9 C1291.0,237.3 1293.0,236.7 1295.0,236.2 C1297.0,235.6 1299.0,235.0 1301.0,234.5 C1303.0,233.9 1305.0,233.4 1307.0,232.9 C1309.0,232.3 1311.0,231.8 1313.0,231.3 C1315.0,230.8 1317.0,230.2 1319.0,229.7 C1321.0,229.2 1323.0,228.7 1325.0,228.3 C1327.0,227.8 1329.0,227.3 1331.0,226.8 C1333.0,226.4 1335.0,225.9 1337.0,225.4 C1339.0,225.0 1341.0,224.5 1343.0,224.1 C1345.0,223.6 1347.0,223.2 1349.0,222.8 C1351.0,222.3 1353.0,221.9 1355.0,221.5 C1357.0,221.1 1359.0,220.7 1361.0,220.3 C1363.0,219.9 1365.0,219.5 1367.0,219.1 C1369.0,218.7 1371.0,218.3 1373.0,217.9 C1375.0,217.5 1377.0,217.2 1379.0,216.8 C1381.0,216.4 1383.0,216.1 1385.0,215.7 C1387.0,215.3 1389.0,215.0 1391.0,214.6 C1393.0,214.3 1395.0,213.9 1397.0,213.6 C1399.0,213.3 1401.0,212.9 1403.0,212.6 C1405.0,212.3 1407.0,211.9 1409.0,211.6 C1411.0,211.3 1413.0,211.0 1415.0,210.7 C1417.0,210.4 1419.0,210.1 1421.0,209.7 C1423.0,209.4 1425.0,209.1 1427.0,208.8 C1429.0,208.5 1431.0,208.2 1433.0,208.0 C1435.0,207.7 1437.0,207.4 1439.0,207.1 C1441.0,206.8 1443.0,206.5 1445.0,206.2 C1447.0,206.0 1449.0,205.7 1451.0,205.4 C1453.0,205.1 1455.0,204.9 1457.0,204.6 C1459.0,204.3 1461.0,204.1 1463.0,203.8 C1465.0,203.5 1467.0,203.3 1469.0,203.0 C1471.0,202.8 1473.0,202.5 1475.0,202.2 C1477.0,202.0 1479.0,201.7 1481.0,201.5 C1483.0,201.2 1485.0,201.0 1487.0,200.7 C1489.0,200.5 1491.0,200.2 1493.0,200.0 C1495.0,199.7 1497.0,199.5 1499.0,199.2 C1501.0,199.0 1503.0,198.7 1505.0,198.5 C1507.0,198.2 1509.0,198.0 1511.0,197.7 C1513.0,197.5 1515.0,197.2 1517.0,197.0 C1519.0,196.7 1521.0,196.5 1523.0,196.2 C1525.0,196.0 1527.0,195.7 1529.0,195.5 C1531.0,195.2 1533.0,195.0 1535.0,194.8 C1537.0,194.5 1539.0,194.3 1541.0,194.0 C1543.0,193.8 1545.0,193.5 1547.0,193.3 C1549.0,193.0 1551.0,192.8 1553.0,192.5 C1555.0,192.3 1557.0,192.0 1559.0,191.8 C1561.0,191.5 1563.0,191.3 1565.0,191.0 C1567.0,190.8 1569.0,190.5 1571.0,190.3 C1573.0,190.1 1575.0,189.8 1577.0,189.6 C1579.0,189.3 1581.0,189.1 1583.0,188.8 C1585.0,188.6 1587.0,188.3 1589.0,188.1 C1591.0,187.8 1593.0,187.6 1595.0,187.3 C1597.0,187.1 1599.0,186.9 1601.0,186.6 C1603.0,186.4 1605.0,186.1 1607.0,185.9 C1609.0,185.6 1611.0,185.4 1613.0,185.1 C1615.0,184.9 1617.0,184.7 1619.0,184.4 C1621.0,184.2 1623.0,183.9 1625.0,183.7 C1627.0,183.4 1629.0,183.2 1631.0,183.0 C1633.0,182.7 1635.0,182.5 1637.0,182.2 C1639.0,182.0 1641.0,181.7 1643.0,181.5 C1645.0,181.3 1647.0,181.0 1649.0,180.8 C1651.0,180.5 1653.0,180.3 1655.0,180.1 C1657.0,179.8 1659.0,179.6 1661.0,179.3 C1663.0,179.1 1665.0,178.9 1667.0,178.6 C1669.0,178.4 1671.0,178.1 1673.0,177.9 C1675.0,177.7 1677.0,177.4 1679.0,177.2 C1681.0,177.0 1683.0,176.7 1685.0,176.5 C1687.0,176.2 1689.0,176.0 1691.0,175.8 C1693.0,175.5 1695.0,175.3 1697.0,175.1 C1699.0,174.8 1701.0,174.6 1703.0,174.4 C1705.0,174.1 1707.0,173.9 1709.0,173.7 C1711.0,173.4 1713.0,173.2 1715.0,173.0 C1717.0,172.7 1719.0,172.5 1721.0,172.3 C1723.0,172.1 1725.0,171.8 1727.0,171.6 C1729.0,171.4 1731.0,171.1 1733.0,170.9 C1735.0,170.7 1737.0,170.5 1739.0,170.2 C1741.0,170.0 1743.0,169.8 1745.0,169.6 C1747.0,169.3 1749.0,169.1 1751.0,168.9 C1753.0,168.7 1755.0,168.4 1757.0,168.2 C1759.0,168.0 1761.0,167.8 1763.0,167.6 C1765.0,167.3 1767.0,167.1 1769.0,166.9 C1771.0,166.7 1773.0,166.5 1775.0,166.2 C1777.0,166.0 1779.0,165.8 1781.0,165.6 C1783.0,165.4 1785.0,165.2 1787.0,164.9 C1789.0,164.7 1791.0,164.5 1793.0,164.3 C1795.0,164.1 1797.0,163.9 1799.0,163.7 C1801.0,163.4 1803.0,163.2 1805.0,163.0 C1807.0,162.8 1809.0,162.6 1811.0,162.4 C1813.0,162.2 1815.0,162.0 1817.0,161.8 C1819.0,161.6 1821.0,161.4 1823.0,161.2 C1825.0,161.0 1827.0,160.7 1829.0,160.5 C1831.0,160.3 1833.0,160.1 1835.0,159.9 C1837.0,159.7 1839.0,159.5 1841.0,159.3 C1843.0,159.1 1845.0,158.9 1847.0,158.7 C1849.0,158.5 1851.0,158.3 1853.0,158.2 C1855.0,158.0 1857.0,157.8 1859.0,157.6 C1861.0,157.4 1863.0,157.2 1865.0,157.0 C1867.0,156.8 1869.0,156.6 1871.0,156.4 C1873.0,156.2 1875.0,156.0 1877.0,155.9 C1879.0,155.7 1881.0,155.5 1883.0,155.3 C1885.0,155.1 1887.0,154.9 1889.0,154.7 C1891.0,154.6 1893.0,154.4 1895.0,154.2 C1897.0,154.0 1899.0,153.8 1901.0,153.7 C1903.0,153.5 1905.0,153.3 1907.0,153.1 C1909.0,152.9 1911.0,152.8 1913.0,152.6 C1915.0,152.4 1917.0,152.2 1919.0,152.1 C1921.0,151.9 1923.0,151.7 1925.0,151.6 C1927.0,151.4 1929.0,151.2 1931.0,151.1 C1933.0,150.9 1935.0,150.7 1937.0,150.6 C1939.0,150.4 1941.0,150.2 1943.0,150.1 C1945.0,149.9 1947.0,149.7 1949.0,149.6 C1951.0,149.4 1953.0,149.3 1955.0,149.1 C1957.0,148.9 1959.0,148.8 1961.0,148.6 C1963.0,148.5 1965.0,148.3 1967.0,148.2 C1969.0,148.0 1971.0,147.9 1973.0,147.7 C1975.0,147.6 1977.0,147.4 1979.0,147.3 C1981.0,147.1 1983.0,147.0 1985.0,146.8 C1987.0,146.7 1989.0,146.6 1991.0,146.4 C1993.0,146.3 1995.0,146.1 1997.0,146.0 C1999.0,145.9 2001.0,145.7 2003.0,145.6 C2005.0,145.4 2007.0,145.3 2009.0,145.2 C2011.0,145.1 2013.0,144.9 2015.0,144.8 C2017.0,144.7 2019.0,144.5 2021.0,144.4 C2023.0,144.3 2025.0,144.2 2027.0,144.0 C2029.0,143.9 2031.0,143.8 2033.0,143.7 C2035.0,143.5 2037.0,143.4 2039.0,143.3 C2041.0,143.2 2043.0,143.1 2045.0,143.0 C2047.0,142.8 2049.0,142.7 2051.0,142.6 C2053.0,142.5 2055.0,142.4 2057.0,142.3 C2059.0,142.2 2061.0,142.1 2063.0,142.0 C2065.0,141.9 2067.0,141.8 2069.0,141.7 C2071.0,141.6 2073.0,141.5 2075.0,141.4 C2077.0,141.3 2079.0,141.2 2081.0,141.1 C2083.0,141.0 2085.0,140.9 2087.0,140.8 C2089.0,140.7 2091.0,140.6 2093.0,140.5 C2095.0,140.4 2097.0,140.3 2099.0,140.3 C2101.0,140.2 2103.0,140.1 2105.0,140.0 C2107.0,139.9 2109.0,139.8 2111.0,139.8 C2113.0,139.7 2115.0,139.6 2117.0,139.5 C2119.0,139.5 2121.0,139.4 2123.0,139.3 C2125.0,139.2 2127.0,139.2 2129.0,139.1 C2131.0,139.0 2133.0,139.0 2135.0,138.9 C2137.0,138.8 2139.0,138.8 2141.0,138.7 C2143.0,138.7 2145.0,138.6 2147.0,138.6 C2149.0,138.5 2151.0,138.4 2153.0,138.4 C2155.0,138.3 2157.0,138.3 2159.0,138.2 C2161.0,138.2 2163.0,138.1 2165.0,138.1 C2167.0,138.1 2169.0,138.0 2171.0,138.0 C2173.0,137.9 2175.0,137.9 2177.0,137.9 C2179.0,137.8 2181.0,137.8 2183.0,137.7 C2185.0,137.7 2187.0,137.7 2189.0,137.7 C2191.0,137.6 2193.0,137.6 2195.0,137.6 C2197.0,137.5 2199.0,137.5 2201.0,137.5 C2203.0,137.5 2205.0,137.5 2207.0,137.4 C2209.0,137.4 2211.0,137.4 2213.0,137.4 C2215.0,137.4 2217.0,137.4 2219.0,137.4 C2221.0,137.4 2223.3,137.4 2225.0,137.3 C2226.7,137.3 2228.3,137.3 2229.0,137.3" fill="none" stroke="#f00" stroke-width="12.7" stroke-linejoin="round"/>
<path d="M248.0,517.2 C248.7,517.4 249.4,517.7 252.0,518.6 C254.6,519.5 259.4,520.7 263.3,522.6 C267.2,524.5 272.0,527.5 275.3,530.0 C278.6,532.5 280.2,534.5 283.3,537.3 C286.4,540.1 289.9,544.9 293.9,546.6 C297.9,548.3 303.0,546.5 307.2,547.3 C311.4,548.1 315.7,550.1 319.2,551.3 C322.7,552.5 325.8,553.1 328.0,554.6 C330.2,556.1 331.0,559.0 332.5,560.0 C334.0,561.0 335.2,560.6 337.0,560.5 C338.8,560.4 340.6,559.7 343.2,559.2 C345.8,558.8 348.1,557.9 352.5,557.8 C356.9,557.7 364.7,558.5 369.8,558.8 C374.9,559.1 378.7,559.5 383.1,559.5 C387.6,559.5 390.9,559.3 396.5,558.8 C402.1,558.3 409.8,557.2 416.4,556.7 C423.0,556.2 428.6,556.5 436.4,555.9 C444.2,555.3 454.1,554.5 463.0,553.3 C471.9,552.1 480.9,550.0 489.6,548.6 C498.3,547.2 509.8,545.9 515.0,545.1 C520.2,544.3 519.0,544.3 521.0,543.9 C523.0,543.4 525.0,543.0 527.0,542.5 C529.0,542.1 531.0,541.6 533.0,541.2 C535.0,540.7 537.0,540.2 539.0,539.7 C541.0,539.3 543.0,538.8 545.0,538.3 C547.0,537.8 549.0,537.3 551.0,536.8 C553.0,536.3 555.0,535.8 557.0,535.3 C559.0,534.8 561.0,534.3 563.0,533.8 C565.0,533.2 567.0,532.7 569.0,532.2 C571.0,531.7 573.0,531.1 575.0,530.6 C577.0,530.1 579.0,529.5 581.0,529.0 C583.0,528.5 585.0,527.9 587.0,527.4 C589.0,526.8 591.0,526.3 593.0,525.7 C595.0,525.2 597.0,524.6 599.0,524.1 C601.0,523.5 603.0,523.0 605.0,522.4 C607.0,521.9 609.0,521.3 611.0,520.7 C613.0,520.2 615.0,519.6 617.0,519.1 C619.0,518.5 621.0,517.9 623.0,517.4 C625.0,516.8 627.0,516.3 629.0,515.7 C631.0,515.1 633.0,514.6 635.0,514.0 C637.0,513.5 639.0,512.9 641.0,512.3 C643.0,511.8 645.0,511.2 647.0,510.7 C649.0,510.1 651.0,509.6 653.0,509.0 C655.0,508.5 657.0,507.9 659.0,507.4 C661.0,506.8 663.0,506.3 665.0,505.8 C667.0,505.2 669.0,504.7 671.0,504.1 C673.0,503.6 675.0,503.1 677.0,502.5 C679.0,502.0 681.0,501.4 683.0,500.9 C685.0,500.4 687.0,499.8 689.0,499.3 C691.0,498.7 693.0,498.2 695.0,497.6 C697.0,497.1 699.0,496.5 701.0,496.0 C703.0,495.4 705.0,494.9 707.0,494.3 C709.0,493.8 711.0,493.2 713.0,492.6 C715.0,492.1 717.0,491.5 719.0,490.9 C721.0,490.4 723.0,489.8 725.0,489.2 C727.0,488.6 729.0,488.0 731.0,487.4 C733.0,486.8 735.0,486.2 737.0,485.6 C739.0,485.0 741.0,484.4 743.0,483.7 C745.0,483.1 747.0,482.5 749.0,481.8 C751.0,481.2 753.0,480.5 755.0,479.9 C757.0,479.2 759.0,478.5 761.0,477.9 C763.0,477.2 765.0,476.5 767.0,475.8 C769.0,475.1 771.0,474.4 773.0,473.7 C775.0,472.9 777.0,472.2 779.0,471.5 C781.0,470.7 783.0,470.0 785.0,469.2 C787.0,468.4 789.0,467.7 791.0,466.9 C793.0,466.1 795.0,465.3 797.0,464.4 C799.0,463.6 801.0,462.8 803.0,461.9 C805.0,461.0 807.0,460.2 809.0,459.3 C811.0,458.4 813.0,457.5 815.0,456.6 C817.0,455.6 819.0,454.7 821.0,453.7 C823.0,452.7 825.0,451.8 827.0,450.8 C829.0,449.8 831.0,448.7 833.0,447.7 C835.0,446.6 837.0,445.6 839.0,444.5 C841.0,443.4 843.0,442.3 845.0,441.2 C847.0,440.1 849.0,438.9 851.0,437.8 C853.0,436.6 855.0,435.5 857.0,434.3 C859.0,433.1 861.0,431.9 863.0,430.6 C865.0,429.4 867.0,428.1 869.0,426.9 C871.0,425.6 873.0,424.3 875.0,423.0 C877.0,421.7 879.0,420.4 881.0,419.0 C883.0,417.7 885.0,416.3 887.0,414.9 C889.0,413.6 891.0,412.2 893.0,410.7 C895.0,409.3 897.0,407.9 899.0,406.4 C901.0,405.0 903.0,403.5 905.0,402.0 C907.0,400.5 909.0,399.0 911.0,397.5 C913.0,395.9 915.0,394.4 917.0,392.8 C919.0,391.3 921.0,389.7 923.0,388.1 C925.0,386.5 927.0,384.8 929.0,383.2 C931.0,381.6 933.0,379.9 935.0,378.2 C937.0,376.6 939.0,374.9 941.0,373.2 C943.0,371.4 945.0,369.7 947.0,368.0 C949.0,366.2 951.0,364.5 953.0,362.7 C955.0,360.9 957.0,359.1 959.0,357.3 C961.0,355.5 963.0,353.6 965.0,351.8 C967.0,350.0 969.0,348.1 971.0,346.2 C973.0,344.4 975.0,342.5 977.0,340.6 C979.0,338.8 981.0,336.9 983.0,335.0 C985.0,333.1 987.0,331.2 989.0,329.3 C991.0,327.4 993.0,325.5 995.0,323.6 C997.0,321.7 999.0,319.8 1001.0,317.9 C1003.0,316.0 1005.0,314.1 1007.0,312.2 C1009.0,310.3 1011.0,308.4 1013.0,306.5 C1015.0,304.6 1017.0,302.7 1019.0,300.8 C1021.0,299.0 1023.0,297.1 1025.0,295.2 C1027.0,293.4 1029.0,291.5 1031.0,289.7 C1033.0,287.9 1035.0,286.1 1037.0,284.3 C1039.0,282.5 1041.0,280.7 1043.0,278.9 C1045.0,277.1 1047.0,275.4 1049.0,273.6 C1051.0,271.9 1053.0,270.2 1055.0,268.5 C1057.0,266.8 1059.0,265.1 1061.0,263.5 C1063.0,261.8 1065.0,260.2 1067.0,258.6 C1069.0,257.0 1071.0,255.4 1073.0,253.9 C1075.0,252.3 1077.0,250.8 1079.0,249.3 C1081.0,247.9 1083.0,246.4 1085.0,245.0 C1087.0,243.6 1089.0,242.2 1091.0,240.8 C1093.0,239.5 1095.0,238.1 1097.0,236.9 C1099.0,235.6 1101.0,234.3 1103.0,233.1 C1105.0,231.9 1107.0,230.7 1109.0,229.5 C1111.0,228.3 1113.0,227.2 1115.0,226.1 C1117.0,225.0 1119.0,223.9 1121.0,222.9 C1123.0,221.8 1125.0,220.8 1127.0,219.8 C1129.0,218.8 1131.0,217.9 1133.0,216.9 C1135.0,216.0 1137.0,215.1 1139.0,214.2 C1141.0,213.3 1143.0,212.5 1145.0,211.6 C1147.0,210.8 1149.0,210.0 1151.0,209.2 C1153.0,208.4 1155.0,207.6 1157.0,206.9 C1159.0,206.1 1161.0,205.4 1163.0,204.7 C1165.0,204.0 1167.0,203.3 1169.0,202.6 C1171.0,202.0 1173.0,201.3 1175.0,200.7 C1177.0,200.0 1179.0,199.4 1181.0,198.8 C1183.0,198.2 1185.0,197.7 1187.0,197.1 C1189.0,196.5 1191.0,196.0 1193.0,195.5 C1195.0,194.9 1197.0,194.4 1199.0,193.9 C1201.0,193.4 1203.0,192.9 1205.0,192.4 C1207.0,192.0 1209.0,191.5 1211.0,191.1 C1213.0,190.6 1215.0,190.2 1217.0,189.7 C1219.0,189.3 1221.0,188.9 1223.0,188.5 C1225.0,188.1 1227.0,187.7 1229.0,187.3 C1231.0,186.9 1233.0,186.5 1235.0,186.1 C1237.0,185.7 1239.0,185.4 1241.0,185.0 C1243.0,184.6 1245.0,184.3 1247.0,183.9 C1249.0,183.6 1251.0,183.2 1253.0,182.9 C1255.0,182.5 1257.0,182.2 1259.0,181.8 C1261.0,181.5 1263.0,181.2 1265.0,180.8 C1267.0,180.5 1269.0,180.2 1271.0,179.9 C1273.0,179.5 1275.0,179.2 1277.0,178.9 C1279.0,178.6 1281.0,178.3 1283.0,178.0 C1285.0,177.7 1287.0,177.4 1289.0,177.1 C1291.0,176.8 1293.0,176.5 1295.0,176.2 C1297.0,175.9 1299.0,175.6 1301.0,175.3 C1303.0,175.0 1305.0,174.8 1307.0,174.5 C1309.0,174.2 1311.0,173.9 1313.0,173.7 C1315.0,173.4 1317.0,173.1 1319.0,172.9 C1321.0,172.6 1323.0,172.3 1325.0,172.1 C1327.0,171.8 1329.0,171.6 1331.0,171.3 C1333.0,171.1 1335.0,170.8 1337.0,170.6 C1339.0,170.3 1341.0,170.1 1343.0,169.9 C1345.0,169.6 1347.0,169.4 1349.0,169.1 C1351.0,168.9 1353.0,168.7 1355.0,168.5 C1357.0,168.2 1359.0,168.0 1361.0,167.8 C1363.0,167.6 1365.0,167.4 1367.0,167.1 C1369.0,166.9 1371.0,166.7 1373.0,166.5 C1375.0,166.3 1377.0,166.1 1379.0,165.9 C1381.0,165.7 1383.0,165.5 1385.0,165.3 C1387.0,165.1 1389.0,164.9 1391.0,164.7 C1393.0,164.5 1395.0,164.3 1397.0,164.1 C1399.0,163.9 1401.0,163.7 1403.0,163.5 C1405.0,163.3 1407.0,163.2 1409.0,163.0 C1411.0,162.8 1413.0,162.6 1415.0,162.4 C1417.0,162.3 1419.0,162.1 1421.0,161.9 C1423.0,161.7 1425.0,161.6 1427.0,161.4 C1429.0,161.2 1431.0,161.0 1433.0,160.9 C1435.0,160.7 1437.0,160.5 1439.0,160.4 C1441.0,160.2 1443.0,160.1 1445.0,159.9 C1447.0,159.7 1449.0,159.6 1451.0,159.4 C1453.0,159.3 1455.0,159.1 1457.0,158.9 C1459.0,158.8 1461.0,158.6 1463.0,158.5 C1465.0,158.3 1467.0,158.2 1469.0,158.0 C1471.0,157.9 1473.0,157.7 1475.0,157.6 C1477.0,157.4 1479.0,157.3 1481.0,157.2 C1483.0,157.0 1485.0,156.9 1487.0,156.7 C1489.0,156.6 1491.0,156.4 1493.0,156.3 C1495.0,156.2 1497.0,156.0 1499.0,155.9 C1501.0,155.7 1503.0,155.6 1505.0,155.5 C1507.0,155.3 1509.0,155.2 1511.0,155.1 C1513.0,154.9 1515.0,154.8 1517.0,154.7 C1519.0,154.5 1521.0,154.4 1523.0,154.3 C1525.0,154.1 1527.0,154.0 1529.0,153.9 C1531.0,153.7 1533.0,153.6 1535.0,153.5 C1537.0,153.3 1539.0,153.2 1541.0,153.1 C1543.0,152.9 1545.0,152.8 1547.0,152.7 C1549.0,152.5 1551.0,152.4 1553.0,152.3 C1555.0,152.1 1557.0,152.0 1559.0,151.9 C1561.0,151.8 1563.0,151.6 1565.0,151.5 C1567.0,151.4 1569.0,151.2 1571.0,151.1 C1573.0,151.0 1575.0,150.8 1577.0,150.7 C1579.0,150.6 1581.0,150.4 1583.0,150.3 C1585.0,150.2 1587.0,150.0 1589.0,149.9 C1591.0,149.8 1593.0,149.6 1595.0,149.5 C1597.0,149.4 1599.0,149.2 1601.0,149.1 C1603.0,149.0 1605.0,148.8 1607.0,148.7 C1609.0,148.6 1611.0,148.4 1613.0,148.3 C1615.0,148.2 1617.0,148.0 1619.0,147.9 C1621.0,147.7 1623.0,147.6 1625.0,147.5 C1627.0,147.3 1629.0,147.2 1631.0,147.0 C1633.0,146.9 1635.0,146.8 1637.0,146.6 C1639.0,146.5 1641.0,146.3 1643.0,146.2 C1645.0,146.1 1647.0,145.9 1649.0,145.8 C1651.0,145.6 1653.0,145.5 1655.0,145.3 C1657.0,145.2 1659.0,145.0 1661.0,144.9 C1663.0,144.8 1665.0,144.6 1667.0,144.5 C1669.0,144.3 1671.0,144.2 1673.0,144.0 C1675.0,143.9 1677.0,143.7 1679.0,143.6 C1681.0,143.4 1683.0,143.3 1685.0,143.1 C1687.0,143.0 1689.0,142.8 1691.0,142.7 C1693.0,142.5 1695.0,142.4 1697.0,142.2 C1699.0,142.1 1701.0,141.9 1703.0,141.8 C1705.0,141.6 1707.0,141.5 1709.0,141.3 C1711.0,141.2 1713.0,141.0 1715.0,140.9 C1717.0,140.7 1719.0,140.6 1721.0,140.4 C1723.0,140.3 1725.0,140.1 1727.0,140.0 C1729.0,139.8 1731.0,139.7 1733.0,139.5 C1735.0,139.4 1737.0,139.2 1739.0,139.1 C1741.0,138.9 1743.0,138.8 1745.0,138.6 C1747.0,138.5 1749.0,138.3 1751.0,138.2 C1753.0,138.0 1755.0,137.9 1757.0,137.7 C1759.0,137.6 1761.0,137.4 1763.0,137.3 C1765.0,137.1 1767.0,137.0 1769.0,136.8 C1771.0,136.7 1773.0,136.5 1775.0,136.4 C1777.0,136.2 1779.0,136.1 1781.0,136.0 C1783.0,135.8 1785.0,135.7 1787.0,135.5 C1789.0,135.4 1791.0,135.2 1793.0,135.1 C1795.0,134.9 1797.0,134.8 1799.0,134.6 C1801.0,134.5 1803.0,134.3 1805.0,134.2 C1807.0,134.1 1809.0,133.9 1811.0,133.8 C1813.0,133.6 1815.0,133.5 1817.0,133.3 C1819.0,133.2 1821.0,133.1 1823.0,132.9 C1825.0,132.8 1827.0,132.6 1829.0,132.5 C1831.0,132.3 1833.0,132.2 1835.0,132.1 C1837.0,131.9 1839.0,131.8 1841.0,131.7 C1843.0,131.5 1845.0,131.4 1847.0,131.2 C1849.0,131.1 1851.0,131.0 1853.0,130.8 C1855.0,130.7 1857.0,130.6 1859.0,130.4 C1861.0,130.3 1863.0,130.2 1865.0,130.0 C1867.0,129.9 1869.0,129.8 1871.0,129.6 C1873.0,129.5 1875.0,129.4 1877.0,129.3 C1879.0,129.1 1881.0,129.0 1883.0,128.9 C1885.0,128.7 1887.0,128.6 1889.0,128.5 C1891.0,128.4 1893.0,128.3 1895.0,128.1 C1897.0,128.0 1899.0,127.9 1901.0,127.8 C1903.0,127.6 1905.0,127.5 1907.0,127.4 C1909.0,127.3 1911.0,127.2 1913.0,127.1 C1915.0,126.9 1917.0,126.8 1919.0,126.7 C1921.0,126.6 1923.0,126.5 1925.0,126.4 C1927.0,126.3 1929.0,126.1 1931.0,126.0 C1933.0,125.9 1935.0,125.8 1937.0,125.7 C1939.0,125.6 1941.0,125.5 1943.0,125.4 C1945.0,125.3 1947.0,125.2 1949.0,125.1 C1951.0,125.0 1953.0,124.9 1955.0,124.8 C1957.0,124.7 1959.0,124.6 1961.0,124.5 C1963.0,124.4 1965.0,124.3 1967.0,124.2 C1969.0,124.1 1971.0,124.0 1973.0,123.9 C1975.0,123.8 1977.0,123.7 1979.0,123.7 C1981.0,123.6 1983.0,123.5 1985.0,123.4 C1987.0,123.3 1989.0,123.2 1991.0,123.1 C1993.0,123.1 1995.0,123.0 1997.0,122.9 C1999.0,122.8 2001.0,122.8 2003.0,122.7 C2005.0,122.6 2007.0,122.5 2009.0,122.5 C2011.0,122.4 2013.0,122.3 2015.0,122.2 C2017.0,122.2 2019.0,122.1 2021.0,122.0 C2023.0,122.0 2025.0,121.9 2027.0,121.9 C2029.0,121.8 2031.0,121.7 2033.0,121.7 C2035.0,121.6 2037.0,121.6 2039.0,121.5 C2041.0,121.5 2043.0,121.4 2045.0,121.4 C2047.0,121.3 2049.0,121.3 2051.0,121.2 C2053.0,121.2 2055.0,121.1 2057.0,121.1 C2059.0,121.0 2061.0,121.0 2063.0,120.9 C2065.0,120.9 2067.0,120.9 2069.0,120.8 C2071.0,120.8 2073.0,120.8 2075.0,120.7 C2077.0,120.7 2079.0,120.7 2081.0,120.7 C2083.0,120.6 2085.0,120.6 2087.0,120.6 C2089.0,120.6 2091.0,120.5 2093.0,120.5 C2095.0,120.5 2097.0,120.5 2099.0,120.5 C2101.0,120.5 2103.0,120.4 2105.0,120.4 C2107.0,120.4 2109.0,120.4 2111.0,120.4 C2113.0,120.4 2115.0,120.4 2117.0,120.4 C2119.0,120.4 2121.0,120.4 2123.0,120.4 C2125.0,120.4 2127.0,120.4 2129.0,120.4 C2131.0,120.4 2133.0,120.5 2135.0,120.5 C2137.0,120.5 2139.0,120.5 2141.0,120.5 C2143.0,120.5 2145.0,120.6 2147.0,120.6 C2149.0,120.6 2151.0,120.6 2153.0,120.7 C2155.0,120.7 2157.0,120.7 2159.0,120.8 C2161.0,120.8 2163.0,120.8 2165.0,120.9 C2167.0,120.9 2169.0,121.0 2171.0,121.0 C2173.0,121.0 2175.0,121.1 2177.0,121.1 C2179.0,121.2 2181.0,121.2 2183.0,121.3 C2185.0,121.4 2187.0,121.4 2189.0,121.5 C2191.0,121.5 2193.0,121.6 2195.0,121.7 C2197.0,121.7 2199.0,121.8 2201.0,121.9 C2203.0,121.9 2205.0,122.0 2207.0,122.1 C2209.0,122.2 2211.0,122.3 2213.0,122.3 C2215.0,122.4 2217.0,122.5 2219.0,122.6 C2221.0,122.7 2223.3,122.8 2225.0,122.9 C2226.7,122.9 2228.3,123.0 2229.0,123.1" fill="none" stroke="#00f" stroke-width="12.7" stroke-linejoin="round"/>
<path d="M248.0,361.1 C248.7,361.0 249.4,360.9 252.0,360.6 C254.6,360.3 259.2,359.8 263.3,359.3 C267.4,358.9 272.6,358.8 276.6,357.9 C280.6,356.9 283.5,354.0 287.3,353.6 C291.1,353.2 295.5,355.2 299.3,355.5 C303.1,355.8 306.3,355.9 309.9,355.4 C313.4,354.9 317.3,353.2 320.6,352.6 C323.9,352.0 327.2,350.6 329.9,351.5 C332.5,352.4 333.2,356.8 336.5,357.9 C339.8,359.0 345.4,358.3 349.9,357.9 C354.3,357.5 357.7,355.9 363.2,355.3 C368.7,354.7 375.3,354.1 383.1,354.0 C390.9,353.9 400.9,354.8 409.8,355.0 C418.7,355.2 428.6,355.1 436.4,355.4 C444.2,355.7 449.8,356.9 456.4,357.0 C463.0,357.1 469.6,356.5 476.3,356.0 C483.0,355.5 489.9,354.2 496.3,353.8 C502.8,353.4 510.9,353.5 515.0,353.3 C519.1,353.1 519.0,352.9 521.0,352.6 C523.0,352.4 525.0,352.1 527.0,351.9 C529.0,351.7 531.0,351.4 533.0,351.2 C535.0,351.0 537.0,350.7 539.0,350.5 C541.0,350.2 543.0,350.0 545.0,349.8 C547.0,349.5 549.0,349.3 551.0,349.0 C553.0,348.8 555.0,348.5 557.0,348.3 C559.0,348.1 561.0,347.8 563.0,347.6 C565.0,347.3 567.0,347.1 569.0,346.8 C571.0,346.6 573.0,346.3 575.0,346.0 C577.0,345.8 579.0,345.5 581.0,345.3 C583.0,345.0 585.0,344.7 587.0,344.5 C589.0,344.2 591.0,343.9 593.0,343.7 C595.0,343.4 597.0,343.1 599.0,342.9 C601.0,342.6 603.0,342.3 605.0,342.0 C607.0,341.7 609.0,341.5 611.0,341.2 C613.0,340.9 615.0,340.6 617.0,340.3 C619.0,340.0 621.0,339.7 623.0,339.4 C625.0,339.1 627.0,338.8 629.0,338.5 C631.0,338.2 633.0,337.9 635.0,337.6 C637.0,337.2 639.0,336.9 641.0,336.6 C643.0,336.3 645.0,336.0 647.0,335.6 C649.0,335.3 651.0,335.0 653.0,334.6 C655.0,334.3 657.0,333.9 659.0,333.6 C661.0,333.2 663.0,332.9 665.0,332.5 C667.0,332.2 669.0,331.8 671.0,331.4 C673.0,331.0 675.0,330.7 677.0,330.3 C679.0,329.9 681.0,329.5 683.0,329.1 C685.0,328.7 687.0,328.3 689.0,327.9 C691.0,327.5 693.0,327.1 695.0,326.7 C697.0,326.3 699.0,325.9 701.0,325.5 C703.0,325.0 705.0,324.6 707.0,324.2 C709.0,323.7 711.0,323.3 713.0,322.8 C715.0,322.4 717.0,321.9 719.0,321.5 C721.0,321.0 723.0,320.5 725.0,320.1 C727.0,319.6 729.0,319.1 731.0,318.6 C733.0,318.1 735.0,317.6 737.0,317.1 C739.0,316.6 741.0,316.1 743.0,315.6 C745.0,315.0 747.0,314.5 749.0,314.0 C751.0,313.4 753.0,312.9 755.0,312.4 C757.0,311.8 759.0,311.2 761.0,310.7 C763.0,310.1 765.0,309.5 767.0,309.0 C769.0,308.4 771.0,307.8 773.0,307.2 C775.0,306.6 777.0,306.0 779.0,305.4 C781.0,304.7 783.0,304.1 785.0,303.5 C787.0,302.8 789.0,302.2 791.0,301.6 C793.0,300.9 795.0,300.2 797.0,299.6 C799.0,298.9 801.0,298.2 803.0,297.5 C805.0,296.8 807.0,296.1 809.0,295.4 C811.0,294.7 813.0,294.0 815.0,293.3 C817.0,292.6 819.0,291.8 821.0,291.1 C823.0,290.3 825.0,289.6 827.0,288.8 C829.0,288.1 831.0,287.3 833.0,286.5 C835.0,285.7 837.0,284.9 839.0,284.1 C841.0,283.3 843.0,282.5 845.0,281.7 C847.0,280.9 849.0,280.1 851.0,279.3 C853.0,278.4 855.0,277.6 857.0,276.7 C859.0,275.9 861.0,275.1 863.0,274.2 C865.0,273.3 867.0,272.5 869.0,271.6 C871.0,270.7 873.0,269.9 875.0,269.0 C877.0,268.1 879.0,267.2 881.0,266.3 C883.0,265.4 885.0,264.5 887.0,263.6 C889.0,262.7 891.0,261.8 893.0,260.9 C895.0,260.0 897.0,259.1 899.0,258.1 C901.0,257.2 903.0,256.3 905.0,255.4 C907.0,254.4 909.0,253.5 911.0,252.5 C913.0,251.6 915.0,250.7 917.0,249.7 C919.0,248.8 921.0,247.8 923.0,246.9 C925.0,245.9 927.0,244.9 929.0,244.0 C931.0,243.0 933.0,242.1 935.0,241.1 C937.0,240.1 939.0,239.2 941.0,238.2 C943.0,237.2 945.0,236.3 947.0,235.3 C949.0,234.3 951.0,233.3 953.0,232.4 C955.0,231.4 957.0,230.4 959.0,229.5 C961.0,228.5 963.0,227.5 965.0,226.6 C967.0,225.6 969.0,224.7 971.0,223.7 C973.0,222.8 975.0,221.8 977.0,220.9 C979.0,220.0 981.0,219.0 983.0,218.1 C985.0,217.2 987.0,216.3 989.0,215.4 C991.0,214.5 993.0,213.6 995.0,212.7 C997.0,211.8 999.0,210.9 1001.0,210.1 C1003.0,209.2 1005.0,208.3 1007.0,207.5 C1009.0,206.6 1011.0,205.8 1013.0,205.0 C1015.0,204.1 1017.0,203.3 1019.0,202.5 C1021.0,201.7 1023.0,200.9 1025.0,200.1 C1027.0,199.3 1029.0,198.5 1031.0,197.8 C1033.0,197.0 1035.0,196.3 1037.0,195.5 C1039.0,194.8 1041.0,194.0 1043.0,193.3 C1045.0,192.6 1047.0,191.9 1049.0,191.2 C1051.0,190.4 1053.0,189.8 1055.0,189.1 C1057.0,188.4 1059.0,187.7 1061.0,187.1 C1063.0,186.4 1065.0,185.8 1067.0,185.1 C1069.0,184.5 1071.0,183.9 1073.0,183.2 C1075.0,182.6 1077.0,182.0 1079.0,181.4 C1081.0,180.9 1083.0,180.3 1085.0,179.7 C1087.0,179.2 1089.0,178.6 1091.0,178.1 C1093.0,177.5 1095.0,177.0 1097.0,176.5 C1099.0,176.0 1101.0,175.5 1103.0,175.0 C1105.0,174.5 1107.0,174.0 1109.0,173.5 C1111.0,173.1 1113.0,172.6 1115.0,172.2 C1117.0,171.8 1119.0,171.3 1121.0,170.9 C1123.0,170.5 1125.0,170.1 1127.0,169.7 C1129.0,169.3 1131.0,169.0 1133.0,168.6 C1135.0,168.3 1137.0,167.9 1139.0,167.6 C1141.0,167.2 1143.0,166.9 1145.0,166.6 C1147.0,166.3 1149.0,166.0 1151.0,165.7 C1153.0,165.4 1155.0,165.1 1157.0,164.9 C1159.0,164.6 1161.0,164.3 1163.0,164.1 C1165.0,163.9 1167.0,163.6 1169.0,163.4 C1171.0,163.1 1173.0,162.9 1175.0,162.7 C1177.0,162.5 1179.0,162.3 1181.0,162.1 C1183.0,161.9 1185.0,161.7 1187.0,161.5 C1189.0,161.3 1191.0,161.2 1193.0,161.0 C1195.0,160.8 1197.0,160.6 1199.0,160.5 C1201.0,160.3 1203.0,160.2 1205.0,160.0 C1207.0,159.9 1209.0,159.7 1211.0,159.6 C1213.0,159.4 1215.0,159.3 1217.0,159.2 C1219.0,159.0 1221.0,158.9 1223.0,158.8 C1225.0,158.7 1227.0,158.5 1229.0,158.4 C1231.0,158.3 1233.0,158.2 1235.0,158.1 C1237.0,157.9 1239.0,157.8 1241.0,157.7 C1243.0,157.6 1245.0,157.5 1247.0,157.4 C1249.0,157.3 1251.0,157.1 1253.0,157.0 C1255.0,156.9 1257.0,156.8 1259.0,156.7 C1261.0,156.6 1263.0,156.5 1265.0,156.4 C1267.0,156.3 1269.0,156.1 1271.0,156.0 C1273.0,155.9 1275.0,155.8 1277.0,155.7 C1279.0,155.6 1281.0,155.5 1283.0,155.4 C1285.0,155.3 1287.0,155.1 1289.0,155.0 C1291.0,154.9 1293.0,154.8 1295.0,154.7 C1297.0,154.6 1299.0,154.5 1301.0,154.4 C1303.0,154.3 1305.0,154.2 1307.0,154.1 C1309.0,153.9 1311.0,153.8 1313.0,153.7 C1315.0,153.6 1317.0,153.5 1319.0,153.4 C1321.0,153.3 1323.0,153.2 1325.0,153.1 C1327.0,153.0 1329.0,152.9 1331.0,152.8 C1333.0,152.6 1335.0,152.5 1337.0,152.4 C1339.0,152.3 1341.0,152.2 1343.0,152.1 C1345.0,152.0 1347.0,151.9 1349.0,151.8 C1351.0,151.7 1353.0,151.6 1355.0,151.5 C1357.0,151.4 1359.0,151.2 1361.0,151.1 C1363.0,151.0 1365.0,150.9 1367.0,150.8 C1369.0,150.7 1371.0,150.6 1373.0,150.5 C1375.0,150.4 1377.0,150.3 1379.0,150.2 C1381.0,150.1 1383.0,150.0 1385.0,149.9 C1387.0,149.8 1389.0,149.6 1391.0,149.5 C1393.0,149.4 1395.0,149.3 1397.0,149.2 C1399.0,149.1 1401.0,149.0 1403.0,148.9 C1405.0,148.8 1407.0,148.7 1409.0,148.6 C1411.0,148.5 1413.0,148.4 1415.0,148.3 C1417.0,148.2 1419.0,148.1 1421.0,147.9 C1423.0,147.8 1425.0,147.7 1427.0,147.6 C1429.0,147.5 1431.0,147.4 1433.0,147.3 C1435.0,147.2 1437.0,147.1 1439.0,147.0 C1441.0,146.9 1443.0,146.8 1445.0,146.7 C1447.0,146.6 1449.0,146.5 1451.0,146.4 C1453.0,146.3 1455.0,146.2 1457.0,146.0 C1459.0,145.9 1461.0,145.8 1463.0,145.7 C1465.0,145.6 1467.0,145.5 1469.0,145.4 C1471.0,145.3 1473.0,145.2 1475.0,145.1 C1477.0,145.0 1479.0,144.9 1481.0,144.8 C1483.0,144.7 1485.0,144.6 1487.0,144.5 C1489.0,144.4 1491.0,144.2 1493.0,144.1 C1495.0,144.0 1497.0,143.9 1499.0,143.8 C1501.0,143.7 1503.0,143.6 1505.0,143.5 C1507.0,143.4 1509.0,143.3 1511.0,143.2 C1513.0,143.1 1515.0,143.0 1517.0,142.9 C1519.0,142.8 1521.0,142.7 1523.0,142.5 C1525.0,142.4 1527.0,142.3 1529.0,142.2 C1531.0,142.1 1533.0,142.0 1535.0,141.9 C1537.0,141.8 1539.0,141.7 1541.0,141.6 C1543.0,141.5 1545.0,141.4 1547.0,141.3 C1549.0,141.2 1551.0,141.1 1553.0,140.9 C1555.0,140.8 1557.0,140.7 1559.0,140.6 C1561.0,140.5 1563.0,140.4 1565.0,140.3 C1567.0,140.2 1569.0,140.1 1571.0,140.0 C1573.0,139.9 1575.0,139.8 1577.0,139.7 C1579.0,139.5 1581.0,139.4 1583.0,139.3 C1585.0,139.2 1587.0,139.1 1589.0,139.0 C1591.0,138.9 1593.0,138.8 1595.0,138.7 C1597.0,138.6 1599.0,138.5 1601.0,138.4 C1603.0,138.2 1605.0,138.1 1607.0,138.0 C1609.0,137.9 1611.0,137.8 1613.0,137.7 C1615.0,137.6 1617.0,137.5 1619.0,137.4 C1621.0,137.3 1623.0,137.2 1625.0,137.0 C1627.0,136.9 1629.0,136.8 1631.0,136.7 C1633.0,136.6 1635.0,136.5 1637.0,136.4 C1639.0,136.3 1641.0,136.2 1643.0,136.1 C1645.0,135.9 1647.0,135.8 1649.0,135.7 C1651.0,135.6 1653.0,135.5 1655.0,135.4 C1657.0,135.3 1659.0,135.2 1661.0,135.1 C1663.0,135.0 1665.0,134.8 1667.0,134.7 C1669.0,134.6 1671.0,134.5 1673.0,134.4 C1675.0,134.3 1677.0,134.2 1679.0,134.1 C1681.0,134.0 1683.0,133.9 1685.0,133.7 C1687.0,133.6 1689.0,133.5 1691.0,133.4 C1693.0,133.3 1695.0,133.2 1697.0,133.1 C1699.0,133.0 1701.0,132.9 1703.0,132.8 C1705.0,132.7 1707.0,132.6 1709.0,132.4 C1711.0,132.3 1713.0,132.2 1715.0,132.1 C1717.0,132.0 1719.0,131.9 1721.0,131.8 C1723.0,131.7 1725.0,131.6 1727.0,131.5 C1729.0,131.4 1731.0,131.3 1733.0,131.2 C1735.0,131.1 1737.0,131.0 1739.0,130.9 C1741.0,130.8 1743.0,130.7 1745.0,130.6 C1747.0,130.5 1749.0,130.3 1751.0,130.2 C1753.0,130.1 1755.0,130.0 1757.0,129.9 C1759.0,129.8 1761.0,129.7 1763.0,129.6 C1765.0,129.5 1767.0,129.4 1769.0,129.3 C1771.0,129.2 1773.0,129.1 1775.0,129.0 C1777.0,128.9 1779.0,128.8 1781.0,128.7 C1783.0,128.7 1785.0,128.6 1787.0,128.5 C1789.0,128.4 1791.0,128.3 1793.0,128.2 C1795.0,128.1 1797.0,128.0 1799.0,127.9 C1801.0,127.8 1803.0,127.7 1805.0,127.6 C1807.0,127.5 1809.0,127.4 1811.0,127.3 C1813.0,127.2 1815.0,127.2 1817.0,127.1 C1819.0,127.0 1821.0,126.9 1823.0,126.8 C1825.0,126.7 1827.0,126.6 1829.0,126.5 C1831.0,126.5 1833.0,126.4 1835.0,126.3 C1837.0,126.2 1839.0,126.1 1841.0,126.0 C1843.0,125.9 1845.0,125.9 1847.0,125.8 C1849.0,125.7 1851.0,125.6 1853.0,125.5 C1855.0,125.5 1857.0,125.4 1859.0,125.3 C1861.0,125.2 1863.0,125.1 1865.0,125.1 C1867.0,125.0 1869.0,124.9 1871.0,124.8 C1873.0,124.8 1875.0,124.7 1877.0,124.6 C1879.0,124.5 1881.0,124.5 1883.0,124.4 C1885.0,124.3 1887.0,124.3 1889.0,124.2 C1891.0,124.1 1893.0,124.1 1895.0,124.0 C1897.0,123.9 1899.0,123.9 1901.0,123.8 C1903.0,123.7 1905.0,123.7 1907.0,123.6 C1909.0,123.5 1911.0,123.5 1913.0,123.4 C1915.0,123.4 1917.0,123.3 1919.0,123.2 C1921.0,123.2 1923.0,123.1 1925.0,123.1 C1927.0,123.0 1929.0,123.0 1931.0,122.9 C1933.0,122.9 1935.0,122.8 1937.0,122.8 C1939.0,122.7 1941.0,122.7 1943.0,122.6 C1945.0,122.6 1947.0,122.5 1949.0,122.5 C1951.0,122.4 1953.0,122.4 1955.0,122.3 C1957.0,122.3 1959.0,122.2 1961.0,122.2 C1963.0,122.2 1965.0,122.1 1967.0,122.1 C1969.0,122.0 1971.0,122.0 1973.0,122.0 C1975.0,121.9 1977.0,121.9 1979.0,121.9 C1981.0,121.8 1983.0,121.8 1985.0,121.8 C1987.0,121.7 1989.0,121.7 1991.0,121.7 C1993.0,121.7 1995.0,121.6 1997.0,121.6 C1999.0,121.6 2001.0,121.6 2003.0,121.5 C2005.0,121.5 2007.0,121.5 2009.0,121.5 C2011.0,121.5 2013.0,121.4 2015.0,121.4 C2017.0,121.4 2019.0,121.4 2021.0,121.4 C2023.0,121.4 2025.0,121.4 2027.0,121.4 C2029.0,121.3 2031.0,121.3 2033.0,121.3 C2035.0,121.3 2037.0,121.3 2039.0,121.3 C2041.0,121.3 2043.0,121.3 2045.0,121.3 C2047.0,121.3 2049.0,121.3 2051.0,121.3 C2053.0,121.3 2055.0,121.3 2057.0,121.3 C2059.0,121.4 2061.0,121.4 2063.0,121.4 C2065.0,121.4 2067.0,121.4 2069.0,121.4 C2071.0,121.4 2073.0,121.4 2075.0,121.5 C2077.0,121.5 2079.0,121.5 2081.0,121.5 C2083.0,121.5 2085.0,121.6 2087.0,121.6 C2089.0,121.6 2091.0,121.6 2093.0,121.7 C2095.0,121.7 2097.0,121.7 2099.0,121.8 C2101.0,121.8 2103.0,121.8 2105.0,121.9 C2107.0,121.9 2109.0,121.9 2111.0,122.0 C2113.0,122.0 2115.0,122.1 2117.0,122.1 C2119.0,122.1 2121.0,122.2 2123.0,122.2 C2125.0,122.3 2127.0,122.3 2129.0,122.4 C2131.0,122.4 2133.0,122.5 2135.0,122.5 C2137.0,122.6 2139.0,122.7 2141.0,122.7 C2143.0,122.8 2145.0,122.8 2147.0,122.9 C2149.0,123.0 2151.0,123.0 2153.0,123.1 C2155.0,123.2 2157.0,123.2 2159.0,123.3 C2161.0,123.4 2163.0,123.5 2165.0,123.5 C2167.0,123.6 2169.0,123.7 2171.0,123.8 C2173.0,123.9 2175.0,123.9 2177.0,124.0 C2179.0,124.1 2181.0,124.2 2183.0,124.3 C2185.0,124.4 2187.0,124.5 2189.0,124.6 C2191.0,124.7 2193.0,124.8 2195.0,124.9 C2197.0,125.0 2199.0,125.1 2201.0,125.2 C2203.0,125.3 2205.0,125.4 2207.0,125.5 C2209.0,125.6 2211.0,125.7 2213.0,125.8 C2215.0,125.9 2217.0,126.0 2219.0,126.2 C2221.0,126.3 2223.3,126.4 2225.0,126.5 C2226.7,126.6 2228.3,126.7 2229.0,126.8" fill="none" stroke="#f0f" stroke-width="12.7" stroke-linejoin="round"/>
</g>
<defs><filter id="thinH" filterUnits="userSpaceOnUse" x="0" y="0" width="2287" height="1888"><feMorphology operator="erode" radius="1.0 0"/></filter><filter id="thinV" filterUnits="userSpaceOnUse" x="0" y="0" width="2287" height="1888"><feMorphology operator="erode" radius="0 1.0"/></filter></defs>
<g font-family="'Liberation Serif', serif" font-weight="bold" fill="#000" filter="url(#thinH)">
<text transform="translate(166.05,1636.50) scale(1.0870,1)" font-size="70.00">0</text>
<text transform="translate(130.42,1325.30) scale(1.0511,1)" font-size="70.00">20</text>
<text transform="translate(130.49,1014.10) scale(1.0501,1)" font-size="70.00">40</text>
<text transform="translate(130.45,702.90) scale(1.0507,1)" font-size="70.00">60</text>
<text transform="translate(130.45,391.70) scale(1.0507,1)" font-size="70.00">80</text>
<text transform="translate(94.70,80.50) scale(1.0407,1)" font-size="70.00">100</text>
<text transform="translate(199.95,1721.60) scale(1.0200,1)" font-size="70.00">350</text>
<text transform="translate(447.05,1721.60) scale(1.0197,1)" font-size="70.00">400</text>
<text transform="translate(693.30,1721.60) scale(1.0197,1)" font-size="70.00">450</text>
<text transform="translate(938.58,1721.60) scale(1.0201,1)" font-size="70.00">500</text>
<text transform="translate(1184.83,1721.60) scale(1.0201,1)" font-size="70.00">550</text>
<text transform="translate(1431.32,1721.60) scale(1.0200,1)" font-size="70.00">600</text>
<text transform="translate(1677.57,1721.60) scale(1.0200,1)" font-size="70.00">650</text>
<text transform="translate(1922.97,1721.60) scale(1.0203,1)" font-size="70.00">700</text>
<text transform="translate(2169.22,1721.60) scale(1.0203,1)" font-size="70.00">750</text>
<text transform="translate(919.85,1843.20) scale(1.0485,1)" font-size="82.40">Wavelength (nm)</text>
</g><g font-family="'Liberation Serif', serif" font-weight="bold" fill="#000" filter="url(#thinV)">
<text transform="translate(82.0,1237.26) rotate(-90) scale(0.9881,1)" font-size="82.40">Transmittance (%)</text>
</g><g font-family="'Liberation Serif', serif" font-weight="bold" fill="#000" filter="url(#thinH)">
<text transform="translate(1641.96,1184.20) scale(1.0424,1)" font-size="71.70">CdS</text>
<text transform="translate(1642.14,1284.20) scale(0.9927,1)" font-size="71.70">CdS:Ag 0.25mM</text>
<text transform="translate(1642.14,1384.20) scale(0.9941,1)" font-size="71.70">CdS:Ag 0.5mM</text>
<text transform="translate(1642.12,1484.20) scale(0.9997,1)" font-size="71.70">CdS:Ag 1 mM</text>
</g>
<line x1="1441.1" y1="1158.4" x2="1624.7" y2="1158.4" stroke="#000" stroke-width="13" stroke-linecap="round"/>
<line x1="1441.1" y1="1258.4" x2="1624.7" y2="1258.4" stroke="#f00" stroke-width="13" stroke-linecap="round"/>
<line x1="1441.1" y1="1358.4" x2="1624.7" y2="1358.4" stroke="#00f" stroke-width="13" stroke-linecap="round"/>
<line x1="1441.1" y1="1458.4" x2="1624.7" y2="1458.4" stroke="#f0f" stroke-width="13" stroke-linecap="round"/>
</svg>
</body></html>
